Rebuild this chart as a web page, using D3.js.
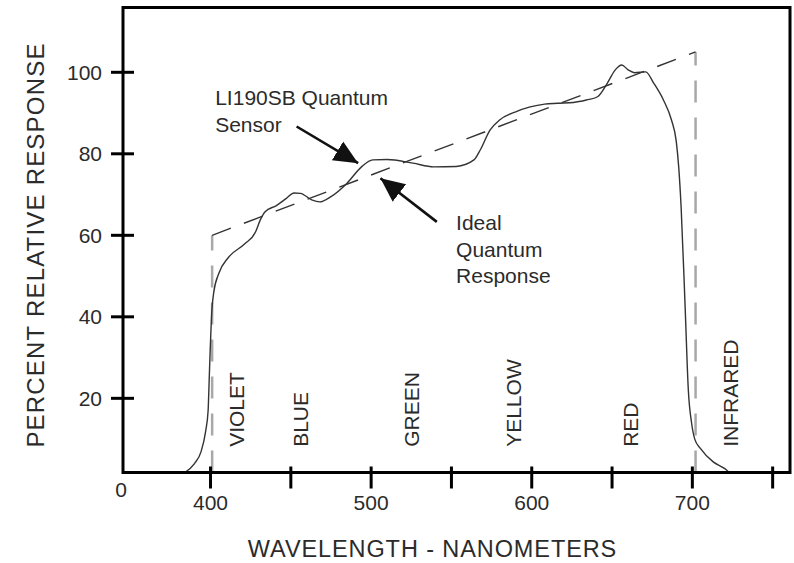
<!DOCTYPE html>
<html>
<head>
<meta charset="utf-8">
<script src="https://cdn.jsdelivr.net/npm/d3@7"></script>
<style>
  html, body { margin: 0; padding: 0; background: #fff; }
  svg { display: block; font-family: 'Liberation Sans', Arial, Helvetica, sans-serif; }
</style>
</head>
<body>
<div id="chart"></div>
<script>
// sensor response curve
const wavelength = [384, 390, 394, 397, 398.5, 399.2, 399.8, 400.6, 402, 405, 411, 421, 428, 431, 434, 441,
  447, 452, 456, 463, 468, 475, 485, 494, 501, 510, 526, 539, 553, 564, 568, 574, 580, 590, 599, 608,
  616, 626, 634, 641, 647, 652, 656, 660, 664, 671, 676, 682, 687, 690, 691.5, 693, 695.5, 697.5, 699.5,
  701.5, 705, 713, 720, 723]
const response = [1.8, 4, 6.8, 12, 17, 25, 32, 40, 46, 50.5, 54.5, 57.8, 60.8, 63.8, 65.8, 67.3,
  69, 70.4, 70.3, 68.7, 68.2, 69.5, 72.8, 76.8, 78.5, 78.6, 77.7, 76.8, 76.9, 78.5, 81, 85.8, 88.3, 90.3, 91.5, 92.2,
  92.4, 92.6, 93.2, 94, 97.3, 100.6, 101.8, 100.6, 99.9, 100.1, 97.3, 93.2, 88.3, 83, 76.8, 67, 42.5, 22, 14,
  10, 7.7, 4.4, 2.8, 1.8]

// ideal quantum response (dashed)
const idealWavelength = [401, 702]
const idealResponse = [60, 105]

// axis ticks
const xTicks = [400, 450, 500, 550, 600, 650, 700, 750]
const xTickLabels = ['400', '', '500', '', '600', '', '700', '']
const yTicks = [20, 40, 60, 80, 100]

// colour bands written along the bottom
const bandNames = ['VIOLET', 'BLUE', 'GREEN', 'YELLOW', 'RED', 'INFRARED']
const bandCenters = [416.3, 455.8, 525.3, 588.5, 661.5, 723.9]

const width = 794
const height = 563
const x = d3.scaleLinear().domain([345.5, 760.8]).range([123, 790])
const y = d3.scaleLinear().domain([1.8, 115.9]).range([472.5, 7.5])
const ink = '#2b2b2b'

const svg = d3.select('#chart').append('svg')
  .attr('width', width)
  .attr('height', height)

// arrow head
svg.append('defs').append('marker')
  .attr('id', 'head')
  .attr('markerUnits', 'userSpaceOnUse')
  .attr('markerWidth', 26)
  .attr('markerHeight', 26)
  .attr('viewBox', '0 -13 26 26')
  .attr('refX', 24)
  .attr('refY', 0)
  .attr('orient', 'auto')
  .append('path')
  .attr('d', 'M0,-11L24,0L0,11Z')
  .attr('fill', '#111')

// vertical cut-off lines of the ideal response
svg.append('g')
  .selectAll('line')
  .data(idealWavelength)
  .enter().append('line')
  .attr('x1', d => x(d)).attr('x2', d => x(d))
  .attr('y1', y.range()[0])
  .attr('y2', (d, i) => y(idealResponse[i]))
  .attr('stroke', '#a8a8a8')
  .attr('stroke-width', 2.5)
  .attr('stroke-dasharray', '22,15')

// sloped ideal line
svg.append('path')
  .datum(idealWavelength.map((w, i) => [w, idealResponse[i]]))
  .attr('d', d3.line().x(d => x(d[0])).y(d => y(d[1])))
  .attr('fill', 'none')
  .attr('stroke', '#333')
  .attr('stroke-width', 1.4)
  .attr('stroke-dasharray', '20,14')

// sensor curve
svg.append('path')
  .datum(wavelength.map((w, i) => [w, response[i]]))
  .attr('d', d3.line().curve(d3.curveMonotoneX).x(d => x(d[0])).y(d => y(d[1])))
  .attr('fill', 'none')
  .attr('stroke', '#333')
  .attr('stroke-width', 1.4)

// frame
svg.append('rect')
  .attr('x', x.range()[0]).attr('y', y.range()[1])
  .attr('width', x.range()[1] - x.range()[0])
  .attr('height', y.range()[0] - y.range()[1])
  .attr('fill', 'none')
  .attr('stroke', '#000')
  .attr('stroke-width', 3)

// x ticks: short above, long below
svg.append('g')
  .selectAll('line')
  .data(xTicks)
  .enter().append('line')
  .attr('x1', d => x(d)).attr('x2', d => x(d))
  .attr('y1', y.range()[0] - 6).attr('y2', y.range()[0] + 16)
  .attr('stroke', '#000')
  .attr('stroke-width', 3)

svg.append('g')
  .selectAll('text')
  .data(xTicks)
  .enter().append('text')
  .attr('x', d => x(d))
  .attr('y', 510)
  .attr('text-anchor', 'middle')
  .attr('font-size', 21)
  .attr('fill', ink)
  .text((d, i) => xTickLabels[i])

svg.append('text')
  .attr('x', x.range()[0] - 2)
  .attr('y', 497)
  .attr('text-anchor', 'middle')
  .attr('font-size', 21)
  .attr('fill', ink)
  .text('0')

// y ticks cross the axis
svg.append('g')
  .selectAll('line')
  .data(yTicks)
  .enter().append('line')
  .attr('x1', x.range()[0] - 12).attr('x2', x.range()[0] + 11)
  .attr('y1', d => y(d)).attr('y2', d => y(d))
  .attr('stroke', '#000')
  .attr('stroke-width', 3)

svg.append('g')
  .selectAll('text')
  .data(yTicks)
  .enter().append('text')
  .attr('x', 102)
  .attr('y', d => y(d))
  .attr('dy', '0.36em')
  .attr('text-anchor', 'end')
  .attr('font-size', 21)
  .attr('fill', ink)
  .text(d => d)

// axis titles
svg.append('text')
  .attr('x', 432.5)
  .attr('y', 556.5)
  .attr('text-anchor', 'middle')
  .attr('font-size', 23.5)
  .attr('letter-spacing', 0.9)
  .attr('fill', ink)
  .text('WAVELENGTH - NANOMETERS')

svg.append('text')
  .attr('transform', 'translate(43.5,245) rotate(-90)')
  .attr('text-anchor', 'middle')
  .attr('font-size', 24)
  .attr('letter-spacing', 1.2)
  .attr('fill', ink)
  .text('PERCENT RELATIVE RESPONSE')

// band names, rotated
svg.append('g')
  .selectAll('text')
  .data(bandNames)
  .enter().append('text')
  .attr('transform', (d, i) => `translate(${x(bandCenters[i]) + 7.5},${y(8.1)}) rotate(-90)`)
  .attr('font-size', 21)
  .attr('fill', ink)
  .text(d => d)

// annotations
const notes = [
  { lines: ['LI190SB Quantum', 'Sensor'], at: [402.9, 92.0], from: [453.6, 86.7], to: [491.9, 77.7] },
  { lines: ['Ideal', 'Quantum', 'Response'], at: [552.9, 61.3], from: [540.9, 63.3], to: [505.8, 74.0] }
]

notes.forEach(n => {
  svg.append('text')
    .attr('x', x(n.at[0]))
    .attr('y', y(n.at[1]))
    .attr('font-size', 21)
    .attr('fill', ink)
    .selectAll('tspan')
    .data(n.lines)
    .enter().append('tspan')
    .attr('x', x(n.at[0]))
    .attr('dy', (d, i) => i === 0 ? 0 : 26.7)
    .text(d => d)

  svg.append('line')
    .attr('x1', x(n.from[0])).attr('y1', y(n.from[1]))
    .attr('x2', x(n.to[0])).attr('y2', y(n.to[1]))
    .attr('stroke', '#111')
    .attr('stroke-width', 2.6)
    .attr('marker-end', 'url(#head)')
})
</script>
</body>
</html>
